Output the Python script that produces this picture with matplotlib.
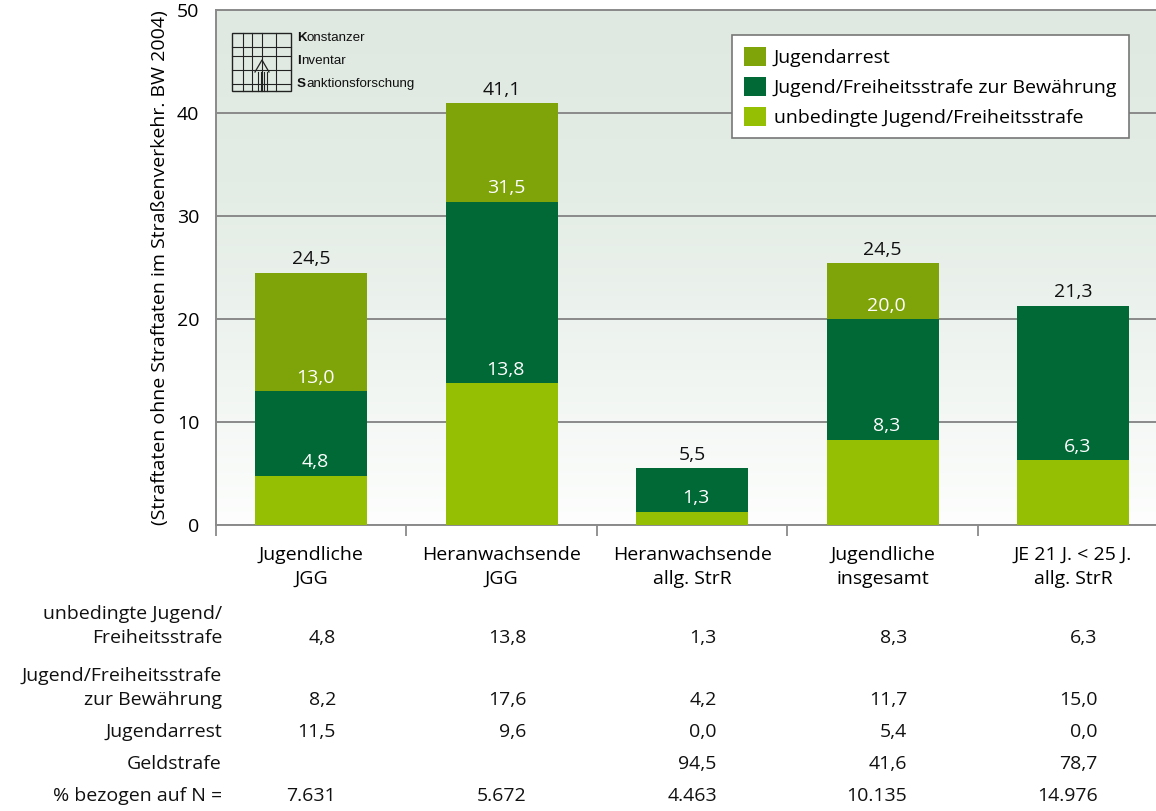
import matplotlib
matplotlib.use("Agg")
import matplotlib.pyplot as plt
import numpy as np
from matplotlib import transforms
from matplotlib.colors import LinearSegmentedColormap
from matplotlib.patches import Rectangle
from matplotlib.lines import Line2D

# ---------------- data ----------------
categories = ["Jugendliche\nJGG", "Heranwachsende\nJGG", "Heranwachsende\nallg. StrR",
              "Jugendliche\ninsgesamt", "JE 21 J. < 25 J.\nallg. StrR"]
unbedingt = [4.8, 13.8, 1.3, 8.3, 6.3]
bewaehrung = [8.2, 17.6, 4.2, 11.7, 15.0]
jugendarrest = [11.5, 9.6, 0.0, 5.4, 0.0]
series_names = ["unbedingte Jugend/Freiheitsstrafe",
                "Jugend/Freiheitsstrafe zur Bewährung",
                "Jugendarrest"]

# cumulative labels as printed in the chart
inner_labels_1 = ["4,8", "13,8", "1,3", "8,3", "6,3"]
inner_labels_2 = ["13,0", "31,5", None, "20,0", None]
top_labels = ["24,5", "41,1", "5,5", "24,5", "21,3"]

table_row_labels = ["unbedingte Jugend/\nFreiheitsstrafe",
                    "Jugend/Freiheitsstrafe\nzur Bewährung",
                    "Jugendarrest", "Geldstrafe", "% bezogen auf N ="]
table_unbedingt = ["4,8", "13,8", "1,3", "8,3", "6,3"]
table_bewaehrung = ["8,2", "17,6", "4,2", "11,7", "15,0"]
table_arrest = ["11,5", "9,6", "0,0", "5,4", "0,0"]
table_geld = ["", "", "94,5", "41,6", "78,7"]
table_n = ["7.631", "5.672", "4.463", "10.135", "14.976"]

ylabel = "(Straftaten ohne Straftaten im Straßenverkehr. BW 2004)"
yticks = [0, 10, 20, 30, 40, 50]

# ---------------- style ----------------
plt.rcParams['font.family'] = ['Open Sans', 'DejaVu Sans']
FS = 14
col_unb = "#94bf03"
col_bew = "#006935"
col_arr = "#7ea40a"
grid_col = "#8a8a8a"

W, H = 1156, 811
fig = plt.figure(figsize=(W / 100, H / 100), dpi=100)
fig.patch.set_facecolor("white")

ax_l, ax_r, ax_t, ax_b = 216, 1156, 10, 525
ax = fig.add_axes([ax_l / W, 1 - ax_b / H, (ax_r - ax_l) / W, (ax_b - ax_t) / H])

# gradient background
cmap = LinearSegmentedColormap.from_list("bg", ["#fdfefd", "#eff4f0", "#e3ece5", "#dfe9e1"])
grad = np.linspace(0, 1, 256).reshape(-1, 1)
ax.imshow(grad, extent=[0, 1, 0, 1], transform=ax.transAxes, aspect="auto",
          cmap=cmap, origin="lower", zorder=0)

x = np.arange(len(categories))
bw = 0.588
b1 = np.array(unbedingt)
b2 = b1 + np.array(bewaehrung)
ax.bar(x, unbedingt, bw, color=col_unb, zorder=3, label=series_names[0])
ax.bar(x, bewaehrung, bw, bottom=b1, color=col_bew, zorder=3, label=series_names[1])
ax.bar(x, jugendarrest, bw, bottom=b2, color=col_arr, zorder=3, label=series_names[2])
b3 = b2 + np.array(jugendarrest)

ax.set_xlim(-0.5, 4.436)
ax.set_ylim(0, 50)
ax.set_yticks(yticks)
ax.set_yticklabels([str(v) for v in yticks], fontsize=FS)
ax.tick_params(axis="y", length=0, pad=12)
ax.yaxis.grid(True, color=grid_col, lw=1.4, zorder=1)
ax.set_axisbelow(True)

ax.set_xticks(x)
ax.set_xticklabels(categories, fontsize=FS, linespacing=1.45)
ax.tick_params(axis="x", which="major", length=0, pad=15)
ax.set_xticks([-0.5, 0.5, 1.5, 2.5, 3.5], minor=True)
ax.tick_params(axis="x", which="minor", length=8, width=1.3, color=grid_col, direction="out")

for s in ["left", "bottom", "top"]:
    ax.spines[s].set_color(grid_col)
    ax.spines[s].set_linewidth(1.4)
ax.spines["right"].set_visible(False)

ax.set_ylabel(ylabel, fontsize=FS, labelpad=6)

# value labels
for i in range(len(categories)):
    ax.annotate(inner_labels_1[i], (x[i], b1[i]), xytext=(3, 3), textcoords="offset points",
                ha="center", va="bottom", color="white", fontsize=FS, zorder=5)
    if inner_labels_2[i]:
        ax.annotate(inner_labels_2[i], (x[i], b2[i]), xytext=(3, 3), textcoords="offset points",
                    ha="center", va="bottom", color="white", fontsize=FS, zorder=5)
    ax.annotate(top_labels[i], (x[i], b3[i]), xytext=(0, 3), textcoords="offset points",
                ha="center", va="bottom", color="#111111", fontsize=FS, zorder=5)

# legend
h, l = ax.get_legend_handles_labels()
leg = fig.legend(h[::-1], l[::-1], loc="upper right",
                 bbox_to_anchor=(1129 / W, 1 - 35 / H), fontsize=FS, frameon=True,
                 fancybox=False, edgecolor="#777777", framealpha=1,
                 handlelength=1.15, handleheight=1.15, handletextpad=0.4,
                 labelspacing=0.5, borderpad=0.6, borderaxespad=0)
leg.get_frame().set_linewidth(1.2)

# table below
tr = transforms.blended_transform_factory(ax.transData, fig.transFigure)
row_y = [643, 705, 737, 769, 801]
rows = [table_unbedingt, table_bewaehrung, table_arrest, table_geld, table_n]
for r, (lab, vals) in enumerate(zip(table_row_labels, rows)):
    yy = 1 - row_y[r] / H
    fig.text(222 / W, yy, lab, ha="right", va="baseline", fontsize=FS,
             linespacing=1.45, color="#111111")
    for i, v in enumerate(vals):
        if v:
            ax.text(x[i] + 0.13, yy, v, transform=tr, ha="right", va="baseline",
                    fontsize=FS, color="#111111")

# logo (Konstanzer Inventar Sanktionsforschung)
def px(xp, yp):
    return (xp / W, 1 - yp / H)

lx0, lx1, ly0, ly1 = 232, 291, 33, 91
fig.add_artist(Rectangle(px(lx0, ly1), (lx1 - lx0) / W, (ly1 - ly0) / H,
                         transform=fig.transFigure, fill=False, lw=1.0, ec="#222222"))
for xv in [243, 252, 262, 276]:
    fig.add_artist(Line2D([xv / W] * 2, [1 - ly0 / H, 1 - ly1 / H], transform=fig.transFigure,
                          lw=0.8, color="#222222"))
for yv in [47, 56, 70, 84]:
    fig.add_artist(Line2D([lx0 / W, lx1 / W], [1 - yv / H] * 2, transform=fig.transFigure,
                          lw=0.8, color="#222222"))
for xv in [258, 261, 264, 267]:
    fig.add_artist(Line2D([xv / W] * 2, [1 - 72 / H, 1 - 91 / H], transform=fig.transFigure,
                          lw=0.8, color="#222222"))
fig.add_artist(Line2D([255 / W, 262 / W, 269 / W], [1 - 72 / H, 1 - 60 / H, 1 - 72 / H],
                      transform=fig.transFigure, lw=0.9, color="#222222"))

logo_lines = [("K", "onstanzer"), ("I", "nventar"), ("S", "anktionsforschung")]
logo_y = [38, 61, 84]
fig.canvas.draw()
renderer = fig.canvas.get_renderer()
for (first, rest), yy in zip(logo_lines, logo_y):
    t = fig.text(297 / W, 1 - yy / H, first, fontsize=9.6, fontweight="bold",
                 family="Liberation Sans", va="center", ha="left", color="#111111")
    bb = t.get_window_extent(renderer)
    fig.text(bb.x1 / W, 1 - yy / H, rest, fontsize=9.6, family="Liberation Sans",
             va="center", ha="left", color="#111111")

fig.savefig("out.png", dpi=100)
